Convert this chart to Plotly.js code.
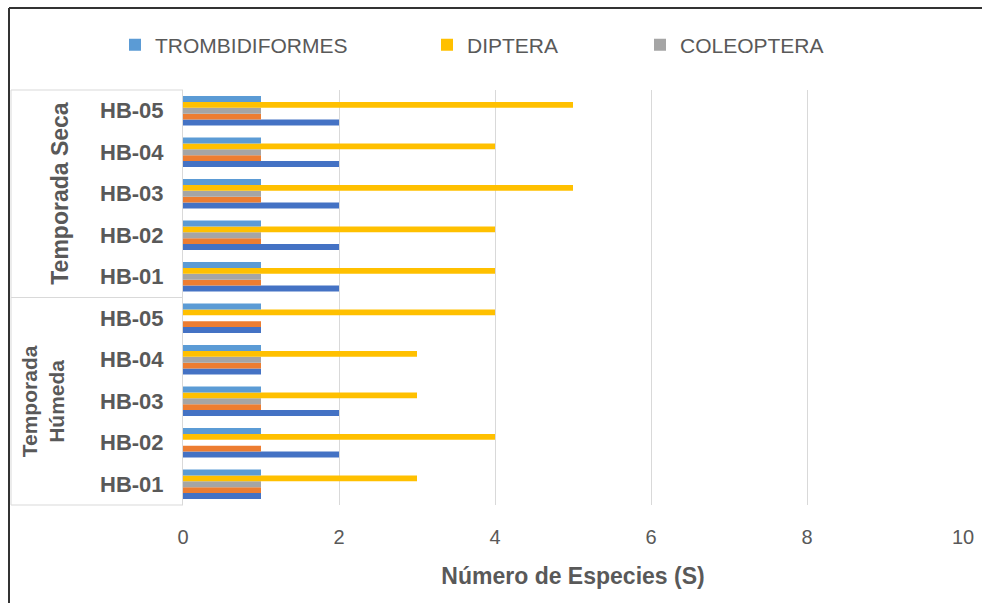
<!DOCTYPE html>
<html>
<head>
<meta charset="utf-8">
<script src="https://cdn.plot.ly/plotly-3.0.1.min.js"></script>
<style>html,body{margin:0;padding:0;background:#fff;}#chart{width:982px;height:603px;}</style>
</head>
<body>
<div id="chart"></div>
<script>
// Category ids (bottom to top) and their tick labels
const categories = ["Húmeda HB-01","Húmeda HB-02","Húmeda HB-03","Húmeda HB-04","Húmeda HB-05",
                    "Seca HB-01","Seca HB-02","Seca HB-03","Seca HB-04","Seca HB-05"];
const tickLabels = ["HB-01","HB-02","HB-03","HB-04","HB-05","HB-01","HB-02","HB-03","HB-04","HB-05"];
const groupLabels = ["Temporada<br>Húmeda","Temporada Seca"];

// Series values (same order as categories)
const serie1 = [1,2,2,1,1, 2,2,2,2,2];          // dark blue (name not visible in legend)
const serie2 = [1,1,1,1,1, 1,1,1,1,1];          // orange (name not visible in legend)
const coleoptera = [1,0,1,1,0, 1,1,1,1,1];
const diptera = [3,4,3,3,4, 4,4,5,4,5];
const trombidiformes = [1,1,1,1,1, 1,1,1,1,1];

const FONT = '"Liberation Sans", Arial, sans-serif';
const TXT = '#595959';

function tr(name, vals, color, show, lg) {
  return {type:'bar', orientation:'h', name:name, x:vals, y:categories,
    marker:{color:color}, showlegend:show, legend:lg||'legend', hoverinfo:'x+name'};
}
const data = [
  tr('Serie 1', serie1, '#4472C4', false),
  tr('Serie 2', serie2, '#ED7D31', false),
  tr('COLEOPTERA', coleoptera, '#A5A5A5', true, 'legend3'),
  tr('DIPTERA', diptera, '#FFC000', true, 'legend2'),
  tr('TROMBIDIFORMES', trombidiformes, '#5B9BD5', true, 'legend')
];

const px = v => (v - 183) / 780;      // pixel x -> paper x
const py = v => (505 - v) / 415;      // pixel y -> paper y
const lgBase = {orientation:'h', yanchor:'middle', xanchor:'left', bgcolor:'rgba(0,0,0,0)',
  font:{family:FONT, size:21, color:TXT}};

const layout = {
  width:982, height:603,
  margin:{l:183, r:19, t:90, b:98},
  paper_bgcolor:'#fff', plot_bgcolor:'#fff',
  barmode:'group', bargap:0.29, bargroupgap:0,
  font:{family:FONT, color:TXT},
  xaxis:{range:[0,10], dtick:2, showgrid:true, gridcolor:'#d9d9d9', gridwidth:1,
    zeroline:false, showline:false, ticks:'outside', ticklen:14, tickcolor:'rgba(0,0,0,0)',
    tickfont:{family:FONT, size:20, color:TXT},
    title:{text:'<b>Número de Especies (S)</b>', font:{family:FONT, size:23, color:TXT}, standoff:20}},
  yaxis:{type:'category', categoryorder:'array', categoryarray:categories,
    tickvals:categories, ticktext:tickLabels.map(t=>'<b>'+t+'</b>'),
    showgrid:false, zeroline:false, showline:true, linecolor:'#d9d9d9', linewidth:1,
    ticks:'outside', ticklen:14, tickcolor:'rgba(0,0,0,0)',
    tickfont:{family:FONT, size:22, color:TXT}},
  legend:Object.assign({}, lgBase, {x:px(115), y:py(45)}),
  legend2:Object.assign({}, lgBase, {x:px(427), y:py(45)}),
  legend3:Object.assign({}, lgBase, {x:px(640), y:py(45)}),
  annotations:[
    {xref:'paper', yref:'paper', x:px(60), y:0.75, xanchor:'center', yanchor:'middle',
      text:'<b>'+groupLabels[1]+'</b>', textangle:-90,
      showarrow:false, font:{family:FONT, size:23, color:TXT}},
    {xref:'paper', yref:'paper', x:px(43), y:0.25, xanchor:'center', yanchor:'middle',
      text:'<b>'+groupLabels[0]+'</b>', textangle:-90,
      showarrow:false, font:{family:FONT, size:21, color:TXT}}
  ],
  shapes:[
    // category box
    {type:'line', xref:'paper', yref:'paper', x0:px(11), x1:0, y0:1, y1:1, line:{color:'#d9d9d9', width:1}},
    {type:'line', xref:'paper', yref:'paper', x0:px(11), x1:0, y0:0.5, y1:0.5, line:{color:'#d9d9d9', width:1}},
    {type:'line', xref:'paper', yref:'paper', x0:px(11), x1:0, y0:0, y1:0, line:{color:'#d9d9d9', width:1}},
    {type:'line', xref:'paper', yref:'paper', x0:px(11), x1:px(11), y0:0, y1:1, line:{color:'#d9d9d9', width:1}},
    // outer frame (left and top)
    {type:'line', xref:'paper', yref:'paper', x0:px(9), x1:px(9), y0:py(603), y1:py(8), line:{color:'#333333', width:2}},
    {type:'line', xref:'paper', yref:'paper', x0:px(9), x1:px(982), y0:py(8), y1:py(8), line:{color:'#333333', width:2}}
  ]
};

Plotly.newPlot('chart', data, layout, {displayModeBar:false, staticPlot:true});
</script>
</body>
</html>
